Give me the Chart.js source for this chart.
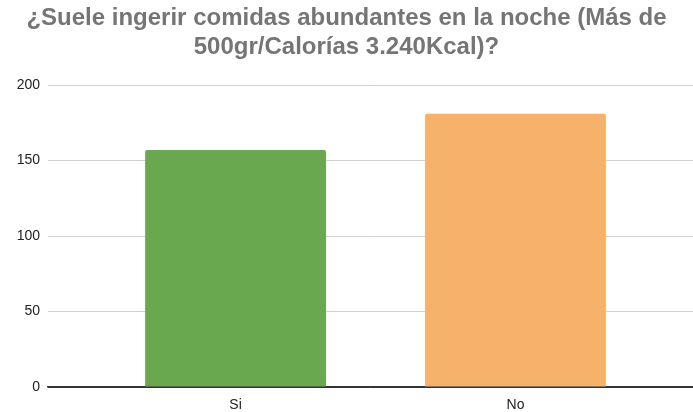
<!DOCTYPE html>
<html>
<head>
<meta charset="utf-8">
<script src="https://cdn.jsdelivr.net/npm/chart.js@4"></script>
<style>
    html, body { margin: 0; padding: 0; background: #fff; }
    #wrap { width: 693px; height: 412px; }
</style>
</head>
<body>
<div id="wrap"><canvas id="chart" width="693" height="412"></canvas></div>
<script>
// data
const categories = ["Si", "No"];
const answers = [157, 181];
const barColors = ["#6aa84f", "#f6b26b"];
const yTicks = [0, 50, 100, 150, 200];
const titleLines = ["¿Suele ingerir comidas abundantes en la noche (Más de", "500gr/Calorías 3.240Kcal)?"];

const fontFamily = "'Liberation Sans', Arial, sans-serif";

// bar chart
function initChart() {
    const ctx = document.getElementById("chart").getContext("2d");

    const barData = {
        datasets: [{
            data: answers.map((v, i) => ({ x: i, y: v })),
            backgroundColor: barColors,
            borderRadius: { topLeft: 2, topRight: 2 },
            borderSkipped: "bottom",
            barPercentage: 0.646,
            categoryPercentage: 1
        }]
    };

    const barOptions = {
        responsive: false,
        animation: false,
        layout: { padding: { top: 0, left: 0, right: 0, bottom: 0 } },
        plugins: {
            legend: { display: false },
            tooltip: { enabled: false },
            title: {
                display: true,
                text: titleLines,
                color: "#757575",
                font: { family: fontFamily, size: 24, weight: "bold", lineHeight: 1.21 },
                padding: { top: 4, bottom: 23 }
            }
        },
        scales: {
            x: {
                type: "linear",
                offset: false,
                min: -0.67,
                max: 1.634,
                afterBuildTicks: (scale) => {
                    scale.ticks = categories.map((c, i) => ({ value: i }));
                },
                afterFit: (scale) => { scale.height = 25; },
                ticks: {
                    callback: (value) => categories[value],
                    color: "#222",
                    font: { family: fontFamily, size: 14 },
                    padding: 2,
                    maxRotation: 0
                },
                grid: { display: false },
                border: { display: true, color: "#333", width: 1.5 }
            },
            y: {
                min: 0,
                max: 200,
                afterBuildTicks: (scale) => {
                    scale.ticks = yTicks.map(v => ({ value: v }));
                },
                afterFit: (scale) => { scale.width = 48; },
                ticks: {
                    color: "#222",
                    font: { family: fontFamily, size: 14 },
                    padding: 8
                },
                grid: {
                    color: (c) => c.tick && c.tick.value === 0 ? "#333" : "#d0d0d0",
                    drawTicks: false
                },
                border: { display: false }
            }
        }
    };

    new Chart(ctx, { type: "bar", data: barData, options: barOptions });
}

initChart();
</script>
</body>
</html>
